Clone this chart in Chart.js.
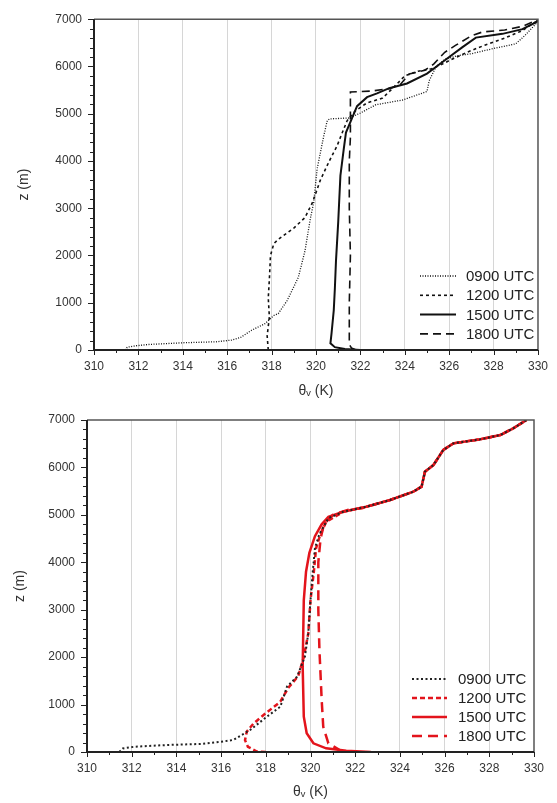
<!DOCTYPE html>
<html>
<head>
<meta charset="utf-8">
<script src="https://cdn.jsdelivr.net/npm/chart.js@4.4.0/dist/chart.umd.min.js"></script>
<style>
  body { margin: 0; background: #fff; }
  #wrap { position: relative; width: 557px; height: 803px; }
  canvas { position: absolute; left: 0; }
  #topChart { top: 0; }
  #bottomChart { top: 400px; }
</style>
</head>
<body>
<div id="wrap">
  <canvas id="topChart" width="557" height="400"></canvas>
  <canvas id="bottomChart" width="557" height="403"></canvas>
</div>
<script>
const seriesNames = ['0900 UTC', '1200 UTC', '1500 UTC', '1800 UTC'];
const xTickLabels = [310, 312, 314, 316, 318, 320, 322, 324, 326, 328, 330];
const yTickLabels = [0, 1000, 2000, 3000, 4000, 5000, 6000, 7000];

// top panel: observed theta_v (K) and height (m)
const topTheta0900 = [311.4, 311.5, 311.9, 312.5, 314.0, 315.5, 316.2, 316.6, 317.1, 317.7, 318.1, 318.3, 318.7, 319.2, 319.5, 319.75, 319.9, 320.05, 320.2, 320.35, 320.5, 320.6, 321.5, 322.0, 322.7, 323.9, 325.0, 325.1, 325.4, 325.8, 326.4, 327.0, 328.0, 329.0, 329.4, 329.9, 330.0];
const topZ0900 =     [0, 60, 90, 118, 153, 174, 209, 265, 418, 557, 730, 770, 1045, 1530, 2090, 2790, 3130, 3830, 4180, 4530, 4840, 4890, 4910, 5015, 5190, 5290, 5470, 5700, 5990, 6150, 6230, 6270, 6380, 6480, 6650, 6900, 6960];

const topTheta1200 = [317.85, 317.8, 317.9, 317.85, 317.9, 317.95, 318.1, 318.3, 319.0, 319.5, 319.85, 320.2, 320.6, 320.95, 321.15, 321.4, 321.75, 322.3, 323.0, 323.5, 324.0, 324.6, 325.2, 325.6, 326.2, 326.8, 327.6, 328.5, 329.3, 329.9, 330.0];
const topZ1200 =     [0, 300, 700, 1100, 1500, 2000, 2250, 2340, 2580, 2800, 3130, 3600, 4000, 4320, 4560, 4850, 5050, 5230, 5330, 5560, 5800, 5900, 5950, 6030, 6170, 6300, 6450, 6600, 6760, 6950, 7000];

const topTheta1500 = [322.0, 321.3, 320.85, 320.65, 320.7, 320.8, 320.85, 320.9, 321.0, 321.05, 321.1, 321.25, 321.35, 321.6, 321.85, 322.3, 322.75, 323.3, 324.1, 325.0, 325.4, 326.0, 326.6, 327.2, 328.4, 329.3, 329.9, 330.0];
const topZ1500 =     [0, 20, 60, 140, 350, 840, 1300, 1880, 2700, 3200, 3690, 4250, 4600, 4880, 5160, 5350, 5430, 5540, 5640, 5850, 5990, 6200, 6410, 6610, 6690, 6790, 6930, 6980];

const topTheta1800 = [321.8, 321.6, 321.5, 321.5, 321.55, 321.5, 321.5, 321.55, 321.55, 321.55, 322.5, 323.3, 323.8, 324.2, 324.9, 325.3, 325.8, 326.3, 327.0, 327.5, 328.5, 329.3, 330.0];
const topZ1800 =     [0, 40, 120, 1000, 2000, 3000, 4000, 4500, 5000, 5460, 5480, 5530, 5620, 5840, 5920, 6050, 6300, 6450, 6650, 6730, 6770, 6850, 6990];

// bottom panel: modelled theta_v (K) and height (m)
const botTheta0900 = [311.45, 311.6, 312.1, 313.6, 315.1, 316.0, 316.55, 317.3, 318.05, 318.65, 318.95, 319.4, 319.75, 319.9, 320.0, 320.1, 320.2, 320.4, 320.6, 320.8];
const botZ0900 =     [0, 75, 110, 148, 170, 215, 255, 465, 745, 955, 1380, 1590, 2010, 2500, 3200, 3800, 4300, 4600, 4760, 4930];

const botTheta1200 = [318.0, 317.6, 317.2, 317.07, 317.15, 317.45, 317.9, 318.65, 319.0, 319.45, 319.7, 319.9, 320.0, 320.15, 320.25, 320.45, 320.7];
const botZ1200 =     [0, 10, 110, 250, 430, 600, 780, 1060, 1350, 1600, 2000, 2500, 3200, 3800, 4300, 4600, 4850];

const botTheta1500 = [322.7, 321.6, 320.7, 320.13, 319.83, 319.7, 319.65, 319.7, 319.8, 319.95, 320.2, 320.5, 320.8];
const botZ1500 =     [0, 28, 78, 183, 394, 745, 1800, 3200, 3800, 4200, 4550, 4800, 4960];

const botTheta1800 = [321.4, 321.25, 320.8, 320.57, 320.5, 320.4, 320.35, 320.35, 320.45, 320.6, 321.0, 321.7, 322.3];
const botZ1800 =     [0, 56, 183, 534, 1100, 2150, 3000, 4000, 4500, 4800, 5000, 5110, 5140];

// all four runs follow the same profile above the inversion
const botThetaUpper = [321.47, 322.5, 323.56, 324.6, 324.97, 325.12, 325.5, 325.94, 326.39, 327.6, 328.5, 329.07, 329.67];
const botZUpper =     [5066, 5172, 5313, 5488, 5594, 5910, 6050, 6367, 6508, 6593, 6684, 6825, 7000];

const FONT = "'Liberation Sans', Arial, sans-serif";
Chart.defaults.font.family = FONT;
Chart.defaults.color = '#333';

function toPoints(xs, ys) {
    return xs.map((x, i) => ({ x: x, y: ys[i] }));
}

function makeDataset(label, xs, ys, color, dash, width) {
    return {
        label,
        data: toPoints(xs, ys),
        showLine: true,
        borderColor: color,
        borderWidth: width,
        borderDash: dash,
        pointRadius: 0,
        tension: 0,
        fill: false
    };
}

// frame, outward major/minor ticks and the legend box
const framePlugin = {
    id: 'frameTicks',
    afterDraw(chart, args, opts) {
        const { ctx, chartArea: a, scales: { x, y } } = chart;
        ctx.save();
        ctx.setLineDash([]);
        ctx.strokeStyle = '#222';
        ctx.lineWidth = 1;
        for (let v = xTickLabels[0]; v <= xTickLabels[xTickLabels.length - 1]; v += 1) {
            const px = Math.round(x.getPixelForValue(v)) + 0.5;
            const len = v % 2 === 0 ? 5 : 3;
            ctx.beginPath();
            ctx.moveTo(px, a.bottom);
            ctx.lineTo(px, a.bottom + len);
            ctx.stroke();
        }
        for (let v = 0; v <= yTickLabels[yTickLabels.length - 1]; v += 200) {
            const py = Math.round(y.getPixelForValue(v)) + 0.5;
            const len = v % 1000 === 0 ? 6 : 4;
            ctx.beginPath();
            ctx.moveTo(a.left, py);
            ctx.lineTo(a.left - len, py);
            ctx.stroke();
        }
        ctx.strokeStyle = '#555';
        ctx.lineWidth = 1.5;
        ctx.beginPath();
        ctx.moveTo(a.left, a.top);
        ctx.lineTo(a.right, a.top);
        ctx.lineTo(a.right, a.bottom);
        ctx.stroke();
        ctx.strokeStyle = '#222';
        ctx.lineWidth = 2;
        ctx.beginPath();
        ctx.moveTo(a.left, a.top);
        ctx.lineTo(a.left, a.bottom);
        ctx.lineTo(a.right, a.bottom);
        ctx.stroke();

        // legend
        ctx.font = '15px ' + FONT;
        ctx.textBaseline = 'middle';
        ctx.textAlign = 'left';
        chart.data.datasets.forEach((ds, i) => {
            const ly = opts.y0 + i * opts.dy;
            ctx.strokeStyle = ds.borderColor;
            ctx.lineWidth = ds.borderWidth;
            ctx.setLineDash(ds.borderDash);
            ctx.beginPath();
            ctx.moveTo(opts.x0, ly);
            ctx.lineTo(opts.x1, ly);
            ctx.stroke();
            ctx.setLineDash([]);
            ctx.fillStyle = '#222';
            ctx.fillText(ds.label, opts.tx, ly + 1);
        });
        ctx.restore();
    }
};

function makeOptions(yWidth, xHeight, pad, yTitlePad, xTitlePad, legend) {
    return {
        responsive: false,
        animation: false,
        layout: { padding: pad },
        plugins: {
            legend: { display: false },
            tooltip: { enabled: false },
            frameTicks: legend
        },
        scales: {
            x: {
                type: 'linear',
                min: 310,
                max: 330,
                afterFit(scale) { scale.height = xHeight; },
                ticks: {
                    stepSize: 1,
                    autoSkip: false,
                    maxRotation: 0,
                    padding: 9,
                    font: { size: 12 },
                    color: '#333',
                    callback: (v) => xTickLabels.includes(v) ? String(v) : ''
                },
                grid: {
                    drawTicks: false,
                    lineWidth: 1,
                    color: (c) => {
                        const v = c.tick ? c.tick.value : null;
                        return (v !== null && v % 2 === 0 && v > 310 && v < 330) ? '#d6d6d6' : 'rgba(0,0,0,0)';
                    }
                },
                border: { display: false },
                title: {
                    display: true,
                    text: 'θᵥ (K)',
                    font: { size: 14 },
                    color: '#333',
                    padding: { top: 0, bottom: xTitlePad }
                }
            },
            y: {
                type: 'linear',
                min: 0,
                max: 7000,
                afterFit(scale) { scale.width = yWidth; },
                ticks: {
                    stepSize: 1000,
                    padding: 12,
                    font: { size: 12 },
                    color: '#333',
                    callback: (v) => yTickLabels.includes(v) ? String(v) : ''
                },
                grid: { display: false, drawTicks: false },
                border: { display: false },
                title: {
                    display: true,
                    text: 'z (m)',
                    font: { size: 14 },
                    color: '#333',
                    padding: { top: yTitlePad, bottom: 0 }
                }
            }
        }
    };
}

const K = '#111';
new Chart(document.getElementById('topChart'), {
    type: 'scatter',
    data: {
        datasets: [
            makeDataset(seriesNames[0], topTheta0900, topZ0900, K, [1, 1.5], 1.3),
            makeDataset(seriesNames[1], topTheta1200, topZ1200, K, [3, 3], 1.6),
            makeDataset(seriesNames[2], topTheta1500, topZ1500, K, [], 2),
            makeDataset(seriesNames[3], topTheta1800, topZ1800, K, [8, 5], 1.6)
        ]
    },
    options: makeOptions(94, 50, { top: 15, right: 14, left: 0, bottom: 0 }, 16, 0,
        { x0: 420, x1: 456, tx: 466, y0: 276, dy: 19.3 }),
    plugins: [framePlugin]
});

const R = '#e3141c';
new Chart(document.getElementById('bottomChart'), {
    type: 'scatter',
    data: {
        datasets: [
            makeDataset(seriesNames[0], botTheta0900.concat(botThetaUpper), botZ0900.concat(botZUpper), '#222', [2, 2.5], 2),
            makeDataset(seriesNames[1], botTheta1200.concat(botThetaUpper), botZ1200.concat(botZUpper), R, [5, 3], 2.5),
            makeDataset(seriesNames[2], botTheta1500.concat(botThetaUpper), botZ1500.concat(botZUpper), R, [], 2.5),
            makeDataset(seriesNames[3], botTheta1800.concat(botThetaUpper.slice(2)), botZ1800.concat(botZUpper.slice(2)), R, [10, 6], 2.5)
        ]
    },
    options: makeOptions(87, 51, { top: 20, right: 23, left: 0, bottom: 0 }, 12, 2,
        { x0: 412, x1: 447, tx: 458, y0: 279, dy: 19 }),
    plugins: [framePlugin]
});
</script>
</body>
</html>
